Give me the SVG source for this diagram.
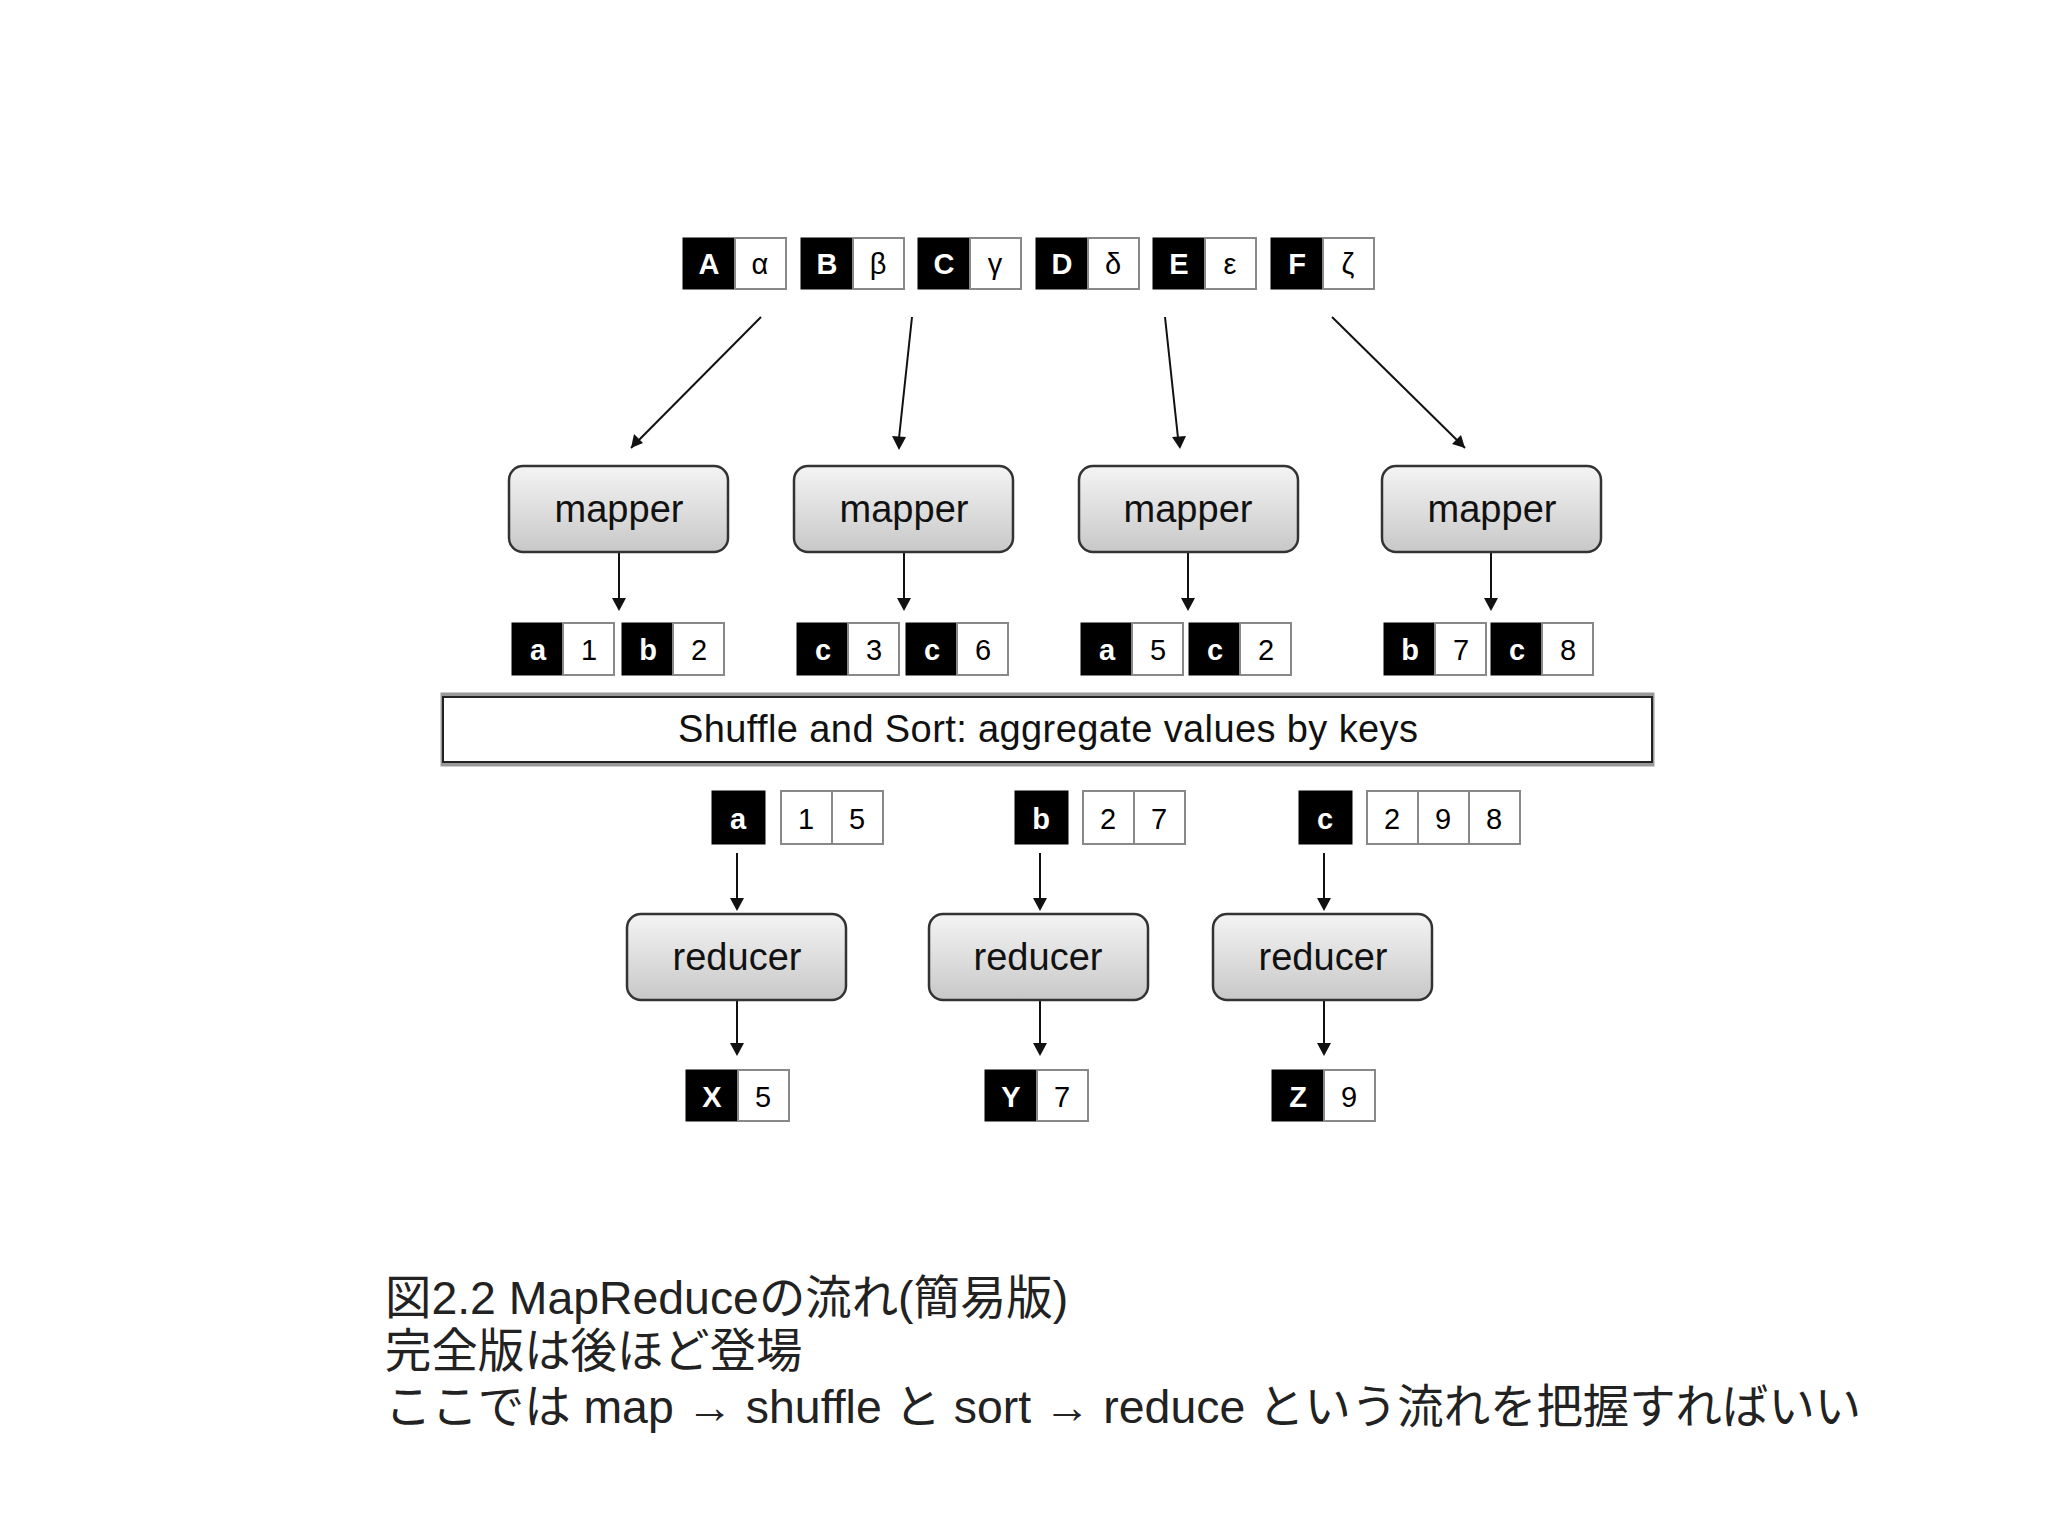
<svg xmlns="http://www.w3.org/2000/svg" width="2048" height="1535" viewBox="0 0 2048 1535">
<style>
.k{fill:#000;stroke:#000;stroke-width:1}
.v{fill:#fff;stroke:#888;stroke-width:2}
.kt{font-family:"Liberation Sans",Arial,sans-serif;font-size:29px;font-weight:bold;fill:#fff;text-anchor:middle}
.vt{font-family:"Liberation Sans",Arial,sans-serif;font-size:29px;fill:#000;text-anchor:middle}
.nd{fill:url(#g);stroke:#333;stroke-width:2.5}
.nt{font-family:"Liberation Sans",Arial,sans-serif;font-size:38px;fill:#111;text-anchor:middle}
.ln{stroke:#111;stroke-width:2;fill:none}
.cap{font-family:"Liberation Sans","Noto Sans CJK JP",sans-serif;font-size:46.4px;fill:#222}
</style>
<defs>
<linearGradient id="g" x1="0" y1="0" x2="0" y2="1"><stop offset="0" stop-color="#f4f4f4"/><stop offset="1" stop-color="#c8c8c8"/></linearGradient>
</defs>
<rect width="2048" height="1535" fill="#fff"/>
<g id="connectors">
<line class="ln" x1="761" y1="317" x2="631" y2="448"/><path d="M631,448 l3,-14 l9,9 z" fill="#111"/>
<line class="ln" x1="912" y1="317" x2="899" y2="438"/><path d="M892,436 l14,1 l-7,13 z" fill="#111"/>
<line class="ln" x1="1165" y1="317" x2="1178" y2="438"/><path d="M1172,437 l14,-1 l-6,13 z" fill="#111"/>
<line class="ln" x1="1332" y1="317" x2="1465" y2="448"/><path d="M1465,448 l-13,-4 l9,-9 z" fill="#111"/>
<g class="ln">
<line x1="619" y1="552" x2="619" y2="600"/><line x1="904" y1="552" x2="904" y2="600"/><line x1="1188" y1="552" x2="1188" y2="600"/><line x1="1491" y1="552" x2="1491" y2="600"/>
<line x1="737" y1="853" x2="737" y2="900"/><line x1="1040" y1="853" x2="1040" y2="900"/><line x1="1324" y1="853" x2="1324" y2="900"/>
<line x1="737" y1="1000" x2="737" y2="1045"/><line x1="1040" y1="1000" x2="1040" y2="1045"/><line x1="1324" y1="1000" x2="1324" y2="1045"/>
</g>
<g fill="#111">
<path d="M612,598 h14 l-7,13 z"/><path d="M897,598 h14 l-7,13 z"/><path d="M1181,598 h14 l-7,13 z"/><path d="M1484,598 h14 l-7,13 z"/>
<path d="M730,898 h14 l-7,13 z"/><path d="M1033,898 h14 l-7,13 z"/><path d="M1317,898 h14 l-7,13 z"/>
<path d="M730,1043 h14 l-7,13 z"/><path d="M1033,1043 h14 l-7,13 z"/><path d="M1317,1043 h14 l-7,13 z"/>
</g>
</g>
<g id="inputs">
<g id="inA"><rect class="k" x="683" y="238" width="52" height="51"/><rect class="v" x="735" y="238" width="51" height="51"/><text class="kt" x="709" y="274">A</text><text class="vt" x="760" y="274">α</text></g>
<g id="inB"><rect class="k" x="801" y="238" width="52" height="51"/><rect class="v" x="853" y="238" width="51" height="51"/><text class="kt" x="827" y="274">B</text><text class="vt" x="878" y="274">β</text></g>
<g id="inC"><rect class="k" x="918" y="238" width="52" height="51"/><rect class="v" x="970" y="238" width="51" height="51"/><text class="kt" x="944" y="274">C</text><text class="vt" x="995" y="274">γ</text></g>
<g id="inD"><rect class="k" x="1036" y="238" width="52" height="51"/><rect class="v" x="1088" y="238" width="51" height="51"/><text class="kt" x="1062" y="274">D</text><text class="vt" x="1113" y="274">δ</text></g>
<g id="inE"><rect class="k" x="1153" y="238" width="52" height="51"/><rect class="v" x="1205" y="238" width="51" height="51"/><text class="kt" x="1179" y="274">E</text><text class="vt" x="1230" y="274">ε</text></g>
<g id="inF"><rect class="k" x="1271" y="238" width="52" height="51"/><rect class="v" x="1323" y="238" width="51" height="51"/><text class="kt" x="1297" y="274">F</text><text class="vt" x="1348" y="274">ζ</text></g>
</g>
<g id="mapper1"><rect class="nd" x="509" y="466" width="219" height="86" rx="14"/><text class="nt" x="619" y="522">mapper</text></g>
<g id="mapper2"><rect class="nd" x="794" y="466" width="219" height="86" rx="14"/><text class="nt" x="904" y="522">mapper</text></g>
<g id="mapper3"><rect class="nd" x="1079" y="466" width="219" height="86" rx="14"/><text class="nt" x="1188" y="522">mapper</text></g>
<g id="mapper4"><rect class="nd" x="1382" y="466" width="219" height="86" rx="14"/><text class="nt" x="1492" y="522">mapper</text></g>
<g id="mapout">
<g id="m1a"><rect class="k" x="512" y="623" width="51" height="52"/><rect class="v" x="563" y="623" width="51" height="52"/><text class="kt" x="538" y="660">a</text><text class="vt" x="589" y="660">1</text></g>
<g id="m1b"><rect class="k" x="622" y="623" width="51" height="52"/><rect class="v" x="673" y="623" width="51" height="52"/><text class="kt" x="648" y="660">b</text><text class="vt" x="699" y="660">2</text></g>
<g id="m2a"><rect class="k" x="797" y="623" width="51" height="52"/><rect class="v" x="848" y="623" width="51" height="52"/><text class="kt" x="823" y="660">c</text><text class="vt" x="874" y="660">3</text></g>
<g id="m2b"><rect class="k" x="906" y="623" width="51" height="52"/><rect class="v" x="957" y="623" width="51" height="52"/><text class="kt" x="932" y="660">c</text><text class="vt" x="983" y="660">6</text></g>
<g id="m3a"><rect class="k" x="1081" y="623" width="51" height="52"/><rect class="v" x="1132" y="623" width="51" height="52"/><text class="kt" x="1107" y="660">a</text><text class="vt" x="1158" y="660">5</text></g>
<g id="m3b"><rect class="k" x="1189" y="623" width="51" height="52"/><rect class="v" x="1240" y="623" width="51" height="52"/><text class="kt" x="1215" y="660">c</text><text class="vt" x="1266" y="660">2</text></g>
<g id="m4a"><rect class="k" x="1384" y="623" width="51" height="52"/><rect class="v" x="1435" y="623" width="51" height="52"/><text class="kt" x="1410" y="660">b</text><text class="vt" x="1461" y="660">7</text></g>
<g id="m4b"><rect class="k" x="1491" y="623" width="51" height="52"/><rect class="v" x="1542" y="623" width="51" height="52"/><text class="kt" x="1517" y="660">c</text><text class="vt" x="1568" y="660">8</text></g>
</g>
<g id="shuffle"><rect x="443" y="695" width="1209" height="69" fill="#fff" stroke="#999" stroke-width="5"/><rect x="443" y="697" width="1209" height="65" fill="#fff" stroke="#222" stroke-width="2"/><text class="nt" x="1048" y="742" textLength="740">Shuffle and Sort: aggregate values by keys</text></g>
<g id="grouped">
<g id="ga"><rect class="k" x="712" y="791" width="53" height="53"/><text class="kt" x="738" y="829">a</text><rect class="v" x="781" y="791" width="51" height="53"/><rect class="v" x="832" y="791" width="51" height="53"/><text class="vt" x="806" y="829">1</text><text class="vt" x="857" y="829">5</text></g>
<g id="gb"><rect class="k" x="1015" y="791" width="53" height="53"/><text class="kt" x="1041" y="829">b</text><rect class="v" x="1083" y="791" width="51" height="53"/><rect class="v" x="1134" y="791" width="51" height="53"/><text class="vt" x="1108" y="829">2</text><text class="vt" x="1159" y="829">7</text></g>
<g id="gc"><rect class="k" x="1299" y="791" width="53" height="53"/><text class="kt" x="1325" y="829">c</text><rect class="v" x="1367" y="791" width="51" height="53"/><rect class="v" x="1418" y="791" width="51" height="53"/><rect class="v" x="1469" y="791" width="51" height="53"/><text class="vt" x="1392" y="829">2</text><text class="vt" x="1443" y="829">9</text><text class="vt" x="1494" y="829">8</text></g>
</g>
<g id="reducer1"><rect class="nd" x="627" y="914" width="219" height="86" rx="14"/><text class="nt" x="737" y="970">reducer</text></g>
<g id="reducer2"><rect class="nd" x="929" y="914" width="219" height="86" rx="14"/><text class="nt" x="1038" y="970">reducer</text></g>
<g id="reducer3"><rect class="nd" x="1213" y="914" width="219" height="86" rx="14"/><text class="nt" x="1323" y="970">reducer</text></g>
<g id="outputs">
<g id="oX"><rect class="k" x="686" y="1070" width="52" height="51"/><rect class="v" x="738" y="1070" width="51" height="51"/><text class="kt" x="712" y="1107">X</text><text class="vt" x="763" y="1107">5</text></g>
<g id="oY"><rect class="k" x="985" y="1070" width="52" height="51"/><rect class="v" x="1037" y="1070" width="51" height="51"/><text class="kt" x="1011" y="1107">Y</text><text class="vt" x="1062" y="1107">7</text></g>
<g id="oZ"><rect class="k" x="1272" y="1070" width="52" height="51"/><rect class="v" x="1324" y="1070" width="51" height="51"/><text class="kt" x="1298" y="1107">Z</text><text class="vt" x="1349" y="1107">9</text></g>
</g>
<g id="caption">
<text class="cap" x="385" y="1314">図2.2 MapReduceの流れ(簡易版)</text>
<text class="cap" x="385" y="1367">完全版は後ほど登場</text>
<text class="cap" x="385" y="1423">ここでは map → shuffle と sort → reduce という流れを把握すればいい</text>
</g>
</svg>
